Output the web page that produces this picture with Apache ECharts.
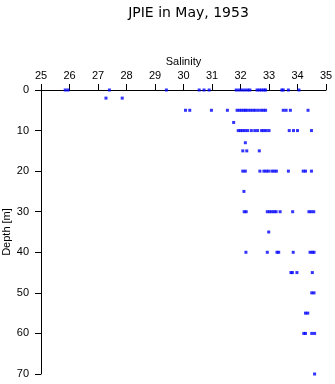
<!DOCTYPE html>
<html><head><meta charset="utf-8">
<script src="https://cdn.jsdelivr.net/npm/echarts@6/dist/echarts.min.js"></script>
<style>html,body{margin:0;padding:0;background:#fff}#c{width:335px;height:384px}</style>
</head><body><div id="c"></div>
<script>
const titleText = 'JPIE in May, 1953';
const xName = 'Salinity';
const yName = 'Depth [m]';
const depthLevels = [0, 2, 5, 8, 10, 13, 15, 20, 25, 30, 35, 40, 45, 50, 55, 60, 70];
const sal_0  = [25.85, 25.95, 27.4, 29.4, 30.55, 30.72, 30.9, 31.85, 31.95, 32.05, 32.15, 32.25, 32.33, 32.58, 32.66, 32.74, 32.82, 32.88, 33.45, 33.5, 33.68, 34.05];
const sal_2  = [27.28, 27.85];
const sal_5  = [30.07, 30.22, 30.98, 31.54, 31.88, 31.96, 32.04, 32.12, 32.18, 32.26, 32.35, 32.44, 32.52, 32.62, 32.72, 32.8, 32.88, 33.5, 33.6, 33.75, 34.37];
const sal_8  = [31.76];
const sal_10 = [31.92, 32.0, 32.08, 32.16, 32.25, 32.38, 32.5, 32.6, 32.74, 32.82, 32.9, 33.0, 33.71, 33.86, 34.0, 34.49];
const sal_13 = [32.17];
const sal_15 = [32.08, 32.22, 32.66];
const sal_20 = [32.08, 32.17, 32.68, 32.82, 32.9, 32.98, 33.1, 33.18, 33.26, 33.68, 34.2, 34.28, 34.49];
const sal_25 = [32.12];
const sal_30 = [32.13, 32.2, 32.94, 33.02, 33.1, 33.18, 33.25, 33.39, 33.83, 34.4, 34.48, 34.57];
const sal_35 = [32.99];
const sal_40 = [32.19, 32.94, 33.28, 33.34, 33.85, 34.44, 34.52, 34.58];
const sal_45 = [33.77, 33.82, 33.98, 34.52];
const sal_50 = [34.5, 34.58];
const sal_55 = [34.28, 34.36];
const sal_60 = [34.22, 34.28, 34.5, 34.6];
const sal_70 = [34.6];
const salinityByDepth = [sal_0, sal_2, sal_5, sal_8, sal_10, sal_13, sal_15, sal_20, sal_25, sal_30, sal_35, sal_40, sal_45, sal_50, sal_55, sal_60, sal_70];

const points = [];
depthLevels.forEach((d, i) => salinityByDepth[i].forEach(s => points.push([s, d])));

const FONT = 'Liberation Sans, Arial, sans-serif';
const chart = echarts.init(document.getElementById('c'), null, {renderer: 'canvas'});
chart.setOption({
  animation: false,
  backgroundColor: '#fff',
  title: {
    text: titleText, left: 183.5, textAlign: 'center', top: 1,
    textStyle: {fontFamily: 'DejaVu Sans, sans-serif', fontSize: 14, fontWeight: 'normal', color: '#000'}
  },
  grid: {left: 41, right: 9, top: 90, bottom: 10, containLabel: false, outerBoundsMode: 'none'},
  xAxis: {
    type: 'value', position: 'top', min: 25, max: 35, interval: 1,
    name: xName, nameLocation: 'middle', nameGap: 23, nameMoveOverlap: false,
    nameTextStyle: {fontFamily: FONT, fontSize: 11, color: '#000'},
    axisLine: {show: true, onZero: false, lineStyle: {color: '#000', width: 1}},
    axisTick: {show: true, length: 6, lineStyle: {color: '#000'}},
    axisLabel: {fontFamily: FONT, fontSize: 11, color: '#000', margin: 9},
    splitLine: {show: false}
  },
  yAxis: {
    type: 'value', inverse: true, min: 0, max: 70, interval: 10,
    name: yName, nameLocation: 'middle', nameGap: 29, nameRotate: 90, nameMoveOverlap: false,
    nameTextStyle: {fontFamily: FONT, fontSize: 11, color: '#000'},
    axisLine: {show: true, onZero: false, lineStyle: {color: '#000', width: 1}},
    axisTick: {show: true, length: 6, lineStyle: {color: '#000'}},
    axisLabel: {fontFamily: FONT, fontSize: 11, color: '#000', margin: 12},
    splitLine: {show: false}
  },
  series: [{
    type: 'scatter', data: points, symbol: 'rect', symbolSize: [3, 3],
    itemStyle: {color: '#0000ff'}
  }]
});
</script></body></html>
